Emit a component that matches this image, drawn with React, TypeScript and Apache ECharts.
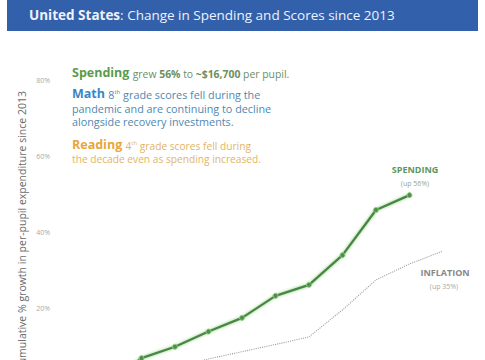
import React, { useEffect, useRef } from 'react';
import * as echarts from 'echarts';

const years = ['2013', '2014', '2015', '2016', '2017', '2018', '2019', '2020', '2021', '2022', '2023'];
const spending = [0, 6.8, 9.8, 13.8, 17.4, 23.2, 26.1, 33.9, 45.8, 49.7];
const inflation = [0, 2.3, 4.5, 6.6, 8.5, 10.4, 12.4, 19.5, 27.4, 31.6, 35.0];
const yMin = 0;
const yMax = 80;
const yStep = 20;

const titleBold = 'United States';
const titleRest = ': Change in Spending and Scores since 2013';
const yAxisTitle = 'Cumulative % growth in per-pupil expenditure since 2013';

const FONT = '"Open Sans", sans-serif';

export default function App() {
  const ref = useRef<HTMLDivElement>(null);
  useEffect(() => {
    if (!ref.current) return;
    const chart = echarts.init(ref.current, null, { renderer: 'svg' });
    const mk = (size: number, fill: string, extra: any = {}) => ({
      fontFamily: FONT, fontSize: size, fill, verticalAlign: 'bottom', lineHeight: 16, ...extra,
    });
    const sup = (fill: string) => ({
      fontFamily: FONT, fontSize: 6, fill, verticalAlign: 'bottom', lineHeight: 8, padding: [0, 0, 5, 0],
    });
    chart.setOption({
      animation: false,
      backgroundColor: '#ffffff',
      grid: { left: 108, top: 80, width: 335, height: 304, containLabel: false },
      xAxis: {
        type: 'category',
        data: years,
        boundaryGap: false,
        show: false,
      },
      yAxis: {
        type: 'value',
        min: yMin,
        max: yMax,
        interval: yStep,
        axisLine: { show: false },
        axisTick: { show: false },
        splitLine: { show: false },
        axisLabel: {
          formatter: '{value}%',
          fontFamily: FONT,
          fontSize: 7,
          color: '#aaaaaa',
          margin: 58,
          showMinLabel: false,
        },
      },
      series: [
        {
          name: 'Inflation',
          type: 'line',
          data: inflation,
          symbol: 'none',
          lineStyle: { color: '#a0a0a0', width: 1.1, type: [1.1, 1.1] },
          z: 2,
        },
        {
          name: 'Spending',
          type: 'line',
          data: spending,
          symbol: 'circle',
          symbolSize: 5,
          itemStyle: { color: '#4f8d49', borderColor: '#8fcf86', borderWidth: 1 },
          lineStyle: {
            color: '#4a8644',
            width: 2.3,
            shadowColor: 'rgba(120,200,105,0.9)',
            shadowBlur: 3,
          },
          z: 3,
        },
      ],
      graphic: [
        { type: 'rect', shape: { x: 7, y: -5, width: 471, height: 36 }, style: { fill: '#3360aa' }, z: 10 },
        {
          type: 'text', x: 29, y: 15, z: 11,
          style: {
            text: `{b|${titleBold}}{r|${titleRest}}`,
            verticalAlign: 'middle',
            rich: {
              b: { fontFamily: FONT, fontSize: 13.5, fontWeight: 'bold', fill: '#eef2fa' },
              r: { fontFamily: FONT, fontSize: 13.5, fill: '#eef2fa' },
            },
          },
        },
        {
          type: 'text', x: 22, y: 231, rotation: Math.PI / 2, z: 11,
          style: { text: yAxisTitle, fontFamily: FONT, fontSize: 10.5, fill: '#6a6a6a', align: 'center', verticalAlign: 'middle' },
        },
        {
          type: 'text', x: 72, y: 71, z: 11,
          style: {
            text: '{h|Spending} {t|grew }{tb|56%}{t| to }{tb|~$16,700}{t| per pupil.}',
            verticalAlign: 'middle',
            rich: {
              h: mk(12.5, '#5b9c4c', { fontWeight: 'bold' }),
              t: mk(10.4, '#6b8f5f'),
              tb: mk(10.4, '#6b8f5f', { fontWeight: 'bold' }),
            },
          },
        },
        {
          type: 'text', x: 72, y: 92, z: 11,
          style: {
            text: '{h|Math} {t|8}{s|th}{t| grade scores fell during the}',
            verticalAlign: 'middle',
            rich: {
              h: mk(12.5, '#3a86c4', { fontWeight: 'bold' }),
              t: mk(10.8, '#4f88b0'),
              s: sup('#4f88b0'),
            },
          },
        },
        {
          type: 'text', x: 72, y: 108, z: 11,
          style: { text: 'pandemic and are continuing to decline', fontFamily: FONT, fontSize: 10.8, fill: '#4f88b0', verticalAlign: 'middle' },
        },
        {
          type: 'text', x: 72, y: 121.5, z: 11,
          style: { text: 'alongside recovery investments.', fontFamily: FONT, fontSize: 10.8, fill: '#4f88b0', verticalAlign: 'middle' },
        },
        {
          type: 'text', x: 72, y: 143, z: 11,
          style: {
            text: '{h|Reading} {t|4}{s|th}{t| grade scores fell during}',
            verticalAlign: 'middle',
            rich: {
              h: mk(12.5, '#e8a53b', { fontWeight: 'bold' }),
              t: mk(10.2, '#e2b466'),
              s: sup('#e2b466'),
            },
          },
        },
        {
          type: 'text', x: 72, y: 159, z: 11,
          style: { text: 'the decade even as spending increased.', fontFamily: FONT, fontSize: 10.2, fill: '#e2b466', verticalAlign: 'middle' },
        },
        {
          type: 'text', x: 415, y: 169, z: 11,
          style: { text: 'SPENDING', fontFamily: FONT, fontSize: 9, fontWeight: 'bold', fill: '#5b965b', align: 'center', verticalAlign: 'middle' },
        },
        {
          type: 'text', x: 415, y: 183, z: 11,
          style: { text: '(up 56%)', fontFamily: FONT, fontSize: 7, fill: '#8fa88f', align: 'center', verticalAlign: 'middle' },
        },
        {
          type: 'text', x: 445, y: 272, z: 11,
          style: { text: 'INFLATION', fontFamily: FONT, fontSize: 9, fontWeight: 'bold', fill: '#888888', align: 'center', verticalAlign: 'middle' },
        },
        {
          type: 'text', x: 444, y: 286, z: 11,
          style: { text: '(up 35%)', fontFamily: FONT, fontSize: 7, fill: '#a8a8a8', align: 'center', verticalAlign: 'middle' },
        },
      ],
    });
    return () => chart.dispose();
  }, []);
  return (
    <div style={{ position: 'fixed', left: 0, top: 0, width: 485, height: 360, overflow: 'hidden', background: '#fff' }}>
      <div ref={ref} style={{ width: 485, height: 440 }} />
    </div>
  );
}
